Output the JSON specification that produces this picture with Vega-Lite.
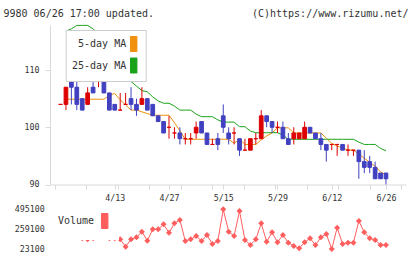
{
  "$schema": "https://vega.github.io/schema/vega-lite/v6.json",
  "width": 356,
  "height": 159.5,
  "autosize": {"type": "none"},
  "padding": {"left": 50, "top": 25, "right": 14, "bottom": 74.5},
  "background": "white",
  "config": {
    "view": {"stroke": null},
    "font": "DejaVu Sans Mono",
    "axis": {"labelFont": "DejaVu Sans Mono", "titleFont": "DejaVu Sans Mono", "labelColor": "#333333", "titleColor": "#333333", "titleFontWeight": "normal", "grid": false},
    "legend": {"labelFont": "DejaVu Sans Mono", "labelColor": "#333333", "labelFontSize": 10}
  },
  "datasets": {
    "candles": [
      {"date": "3/30", "i": 0, "open": 104, "high": 104, "low": 104, "close": 104},
      {"date": "3/31", "i": 1, "open": 104, "high": 107, "low": 103, "close": 107},
      {"date": "4/1", "i": 2, "open": 108, "high": 109, "low": 104, "close": 107},
      {"date": "4/2", "i": 3, "open": 107, "high": 109, "low": 103, "close": 104},
      {"date": "4/3", "i": 4, "open": 105, "high": 105, "low": 103, "close": 103},
      {"date": "4/6", "i": 5, "open": 104, "high": 107, "low": 104, "close": 106},
      {"date": "4/7", "i": 6, "open": 107, "high": 110, "low": 106, "close": 106},
      {"date": "4/8", "i": 7, "open": 108, "high": 110, "low": 107, "close": 108},
      {"date": "4/9", "i": 8, "open": 108, "high": 110, "low": 106, "close": 106},
      {"date": "4/10", "i": 9, "open": 106, "high": 106, "low": 103, "close": 103},
      {"date": "4/13", "i": 10, "open": 104, "high": 104, "low": 103, "close": 103},
      {"date": "4/14", "i": 11, "open": 103, "high": 106, "low": 103, "close": 103},
      {"date": "4/15", "i": 12, "open": 104, "high": 106, "low": 104, "close": 104},
      {"date": "4/16", "i": 13, "open": 105, "high": 107, "low": 103, "close": 104},
      {"date": "4/17", "i": 14, "open": 104, "high": 105, "low": 102, "close": 103},
      {"date": "4/20", "i": 15, "open": 104, "high": 107, "low": 104, "close": 105},
      {"date": "4/21", "i": 16, "open": 105, "high": 105, "low": 103, "close": 103},
      {"date": "4/22", "i": 17, "open": 104, "high": 104, "low": 102, "close": 102},
      {"date": "4/23", "i": 18, "open": 102, "high": 102, "low": 101, "close": 101},
      {"date": "4/24", "i": 19, "open": 101, "high": 101, "low": 99, "close": 99},
      {"date": "4/27", "i": 20, "open": 100, "high": 102, "low": 98, "close": 100},
      {"date": "4/28", "i": 21, "open": 99, "high": 100, "low": 98, "close": 99},
      {"date": "4/30", "i": 22, "open": 99, "high": 100, "low": 97, "close": 98},
      {"date": "5/1", "i": 23, "open": 98, "high": 99, "low": 97, "close": 98},
      {"date": "5/7", "i": 24, "open": 98, "high": 99, "low": 97, "close": 98},
      {"date": "5/8", "i": 25, "open": 99, "high": 101, "low": 98, "close": 100},
      {"date": "5/11", "i": 26, "open": 101, "high": 101, "low": 99, "close": 99},
      {"date": "5/12", "i": 27, "open": 99, "high": 99, "low": 97, "close": 97},
      {"date": "5/13", "i": 28, "open": 97, "high": 98, "low": 97, "close": 97},
      {"date": "5/14", "i": 29, "open": 98, "high": 99, "low": 96, "close": 97},
      {"date": "5/15", "i": 30, "open": 102, "high": 104, "low": 99, "close": 100},
      {"date": "5/18", "i": 31, "open": 99, "high": 100, "low": 97, "close": 98},
      {"date": "5/19", "i": 32, "open": 99, "high": 100, "low": 97, "close": 99},
      {"date": "5/20", "i": 33, "open": 98, "high": 98, "low": 95, "close": 96},
      {"date": "5/21", "i": 34, "open": 96, "high": 98, "low": 96, "close": 96},
      {"date": "5/22", "i": 35, "open": 96, "high": 98, "low": 96, "close": 98},
      {"date": "5/25", "i": 36, "open": 98, "high": 99, "low": 97, "close": 98},
      {"date": "5/26", "i": 37, "open": 98, "high": 103, "low": 98, "close": 102},
      {"date": "5/27", "i": 38, "open": 102, "high": 102, "low": 100, "close": 101},
      {"date": "5/28", "i": 39, "open": 101, "high": 101, "low": 99, "close": 100},
      {"date": "5/29", "i": 40, "open": 100, "high": 101, "low": 99, "close": 100},
      {"date": "6/1", "i": 41, "open": 100, "high": 101, "low": 98, "close": 98},
      {"date": "6/2", "i": 42, "open": 98, "high": 99, "low": 97, "close": 97},
      {"date": "6/3", "i": 43, "open": 98, "high": 100, "low": 97, "close": 99},
      {"date": "6/4", "i": 44, "open": 98, "high": 99, "low": 98, "close": 99},
      {"date": "6/5", "i": 45, "open": 98, "high": 101, "low": 98, "close": 100},
      {"date": "6/8", "i": 46, "open": 100, "high": 100, "low": 99, "close": 99},
      {"date": "6/9", "i": 47, "open": 99, "high": 99, "low": 98, "close": 98},
      {"date": "6/10", "i": 48, "open": 98, "high": 99, "low": 96, "close": 97},
      {"date": "6/11", "i": 49, "open": 97, "high": 97, "low": 94, "close": 96},
      {"date": "6/12", "i": 50, "open": 97, "high": 97, "low": 96, "close": 97},
      {"date": "6/15", "i": 51, "open": 97, "high": 97, "low": 95, "close": 97},
      {"date": "6/16", "i": 52, "open": 97, "high": 97, "low": 96, "close": 96},
      {"date": "6/17", "i": 53, "open": 96, "high": 97, "low": 95, "close": 96},
      {"date": "6/18", "i": 54, "open": 96, "high": 96, "low": 95, "close": 96},
      {"date": "6/19", "i": 55, "open": 96, "high": 96, "low": 91, "close": 94},
      {"date": "6/22", "i": 56, "open": 94, "high": 96, "low": 92, "close": 93},
      {"date": "6/23", "i": 57, "open": 94, "high": 95, "low": 92, "close": 93},
      {"date": "6/24", "i": 58, "open": 93, "high": 94, "low": 91, "close": 91},
      {"date": "6/25", "i": 59, "open": 92, "high": 92, "low": 91, "close": 91},
      {"date": "6/26", "i": 60, "open": 92, "high": 92, "low": 90, "close": 91}
    ],
    "averages": [
      {"ma": "5-day MA", "i": 1, "v": 104.9}, {"ma": "5-day MA", "i": 2, "v": 104.9}, {"ma": "5-day MA", "i": 3, "v": 104.9},
      {"ma": "5-day MA", "i": 4, "v": 104.9}, {"ma": "5-day MA", "i": 5, "v": 104.9}, {"ma": "5-day MA", "i": 6, "v": 104.9},
      {"ma": "5-day MA", "i": 7, "v": 104.9}, {"ma": "5-day MA", "i": 8, "v": 104.9}, {"ma": "5-day MA", "i": 9, "v": 105.6},
      {"ma": "5-day MA", "i": 10, "v": 105.9}, {"ma": "5-day MA", "i": 11, "v": 104.8}, {"ma": "5-day MA", "i": 12, "v": 103.9},
      {"ma": "5-day MA", "i": 13, "v": 103.0}, {"ma": "5-day MA", "i": 14, "v": 103.0}, {"ma": "5-day MA", "i": 15, "v": 102.7},
      {"ma": "5-day MA", "i": 16, "v": 102.4}, {"ma": "5-day MA", "i": 17, "v": 102.1}, {"ma": "5-day MA", "i": 18, "v": 102.1},
      {"ma": "5-day MA", "i": 19, "v": 102.1}, {"ma": "5-day MA", "i": 20, "v": 102.1}, {"ma": "5-day MA", "i": 21, "v": 100.8},
      {"ma": "5-day MA", "i": 22, "v": 99.4}, {"ma": "5-day MA", "i": 23, "v": 97.9}, {"ma": "5-day MA", "i": 24, "v": 97.9},
      {"ma": "5-day MA", "i": 25, "v": 97.9}, {"ma": "5-day MA", "i": 26, "v": 97.9}, {"ma": "5-day MA", "i": 27, "v": 97.9},
      {"ma": "5-day MA", "i": 28, "v": 97.9}, {"ma": "5-day MA", "i": 29, "v": 97.9}, {"ma": "5-day MA", "i": 30, "v": 97.9},
      {"ma": "5-day MA", "i": 31, "v": 97.9}, {"ma": "5-day MA", "i": 32, "v": 97.2}, {"ma": "5-day MA", "i": 33, "v": 97.9},
      {"ma": "5-day MA", "i": 34, "v": 97.0}, {"ma": "5-day MA", "i": 35, "v": 97.0}, {"ma": "5-day MA", "i": 36, "v": 97.0},
      {"ma": "5-day MA", "i": 37, "v": 97.8}, {"ma": "5-day MA", "i": 38, "v": 98.5}, {"ma": "5-day MA", "i": 39, "v": 99.0},
      {"ma": "5-day MA", "i": 40, "v": 99.9}, {"ma": "5-day MA", "i": 41, "v": 99.9}, {"ma": "5-day MA", "i": 42, "v": 99.9},
      {"ma": "5-day MA", "i": 43, "v": 99.0}, {"ma": "5-day MA", "i": 44, "v": 99.0}, {"ma": "5-day MA", "i": 45, "v": 99.0},
      {"ma": "5-day MA", "i": 46, "v": 99.0}, {"ma": "5-day MA", "i": 47, "v": 99.0}, {"ma": "5-day MA", "i": 48, "v": 99.0},
      {"ma": "5-day MA", "i": 49, "v": 98.1}, {"ma": "5-day MA", "i": 50, "v": 97.2}, {"ma": "5-day MA", "i": 51, "v": 96.7},
      {"ma": "5-day MA", "i": 52, "v": 96.4}, {"ma": "5-day MA", "i": 53, "v": 96.0}, {"ma": "5-day MA", "i": 54, "v": 96.0},
      {"ma": "5-day MA", "i": 55, "v": 95.3}, {"ma": "5-day MA", "i": 56, "v": 94.6}, {"ma": "5-day MA", "i": 57, "v": 93.9},
      {"ma": "5-day MA", "i": 58, "v": 93.2}, {"ma": "5-day MA", "i": 59, "v": 92.2}, {"ma": "5-day MA", "i": 60, "v": 91.7},
      {"ma": "25-day MA", "i": 1, "v": 116.8}, {"ma": "25-day MA", "i": 2, "v": 117.2}, {"ma": "25-day MA", "i": 3, "v": 117.8},
      {"ma": "25-day MA", "i": 4, "v": 117.8}, {"ma": "25-day MA", "i": 5, "v": 117.8}, {"ma": "25-day MA", "i": 6, "v": 117.2},
      {"ma": "25-day MA", "i": 7, "v": 116.2}, {"ma": "25-day MA", "i": 8, "v": 114.8}, {"ma": "25-day MA", "i": 9, "v": 113.2},
      {"ma": "25-day MA", "i": 10, "v": 111.6}, {"ma": "25-day MA", "i": 11, "v": 110.1}, {"ma": "25-day MA", "i": 12, "v": 108.7},
      {"ma": "25-day MA", "i": 13, "v": 108.0}, {"ma": "25-day MA", "i": 14, "v": 107.2}, {"ma": "25-day MA", "i": 15, "v": 106.4},
      {"ma": "25-day MA", "i": 16, "v": 106.2}, {"ma": "25-day MA", "i": 17, "v": 105.3}, {"ma": "25-day MA", "i": 18, "v": 104.6},
      {"ma": "25-day MA", "i": 19, "v": 104.2}, {"ma": "25-day MA", "i": 20, "v": 104.2}, {"ma": "25-day MA", "i": 21, "v": 103.7},
      {"ma": "25-day MA", "i": 22, "v": 103.0}, {"ma": "25-day MA", "i": 23, "v": 103.0}, {"ma": "25-day MA", "i": 24, "v": 103.0},
      {"ma": "25-day MA", "i": 25, "v": 102.3}, {"ma": "25-day MA", "i": 26, "v": 101.85}, {"ma": "25-day MA", "i": 27, "v": 101.85},
      {"ma": "25-day MA", "i": 28, "v": 101.85}, {"ma": "25-day MA", "i": 29, "v": 101.3}, {"ma": "25-day MA", "i": 30, "v": 100.9},
      {"ma": "25-day MA", "i": 31, "v": 100.9}, {"ma": "25-day MA", "i": 32, "v": 100.9}, {"ma": "25-day MA", "i": 33, "v": 100.1},
      {"ma": "25-day MA", "i": 34, "v": 100.1}, {"ma": "25-day MA", "i": 35, "v": 99.35}, {"ma": "25-day MA", "i": 36, "v": 99.05},
      {"ma": "25-day MA", "i": 37, "v": 99.05}, {"ma": "25-day MA", "i": 38, "v": 99.05}, {"ma": "25-day MA", "i": 39, "v": 99.05},
      {"ma": "25-day MA", "i": 40, "v": 99.05}, {"ma": "25-day MA", "i": 41, "v": 98.65}, {"ma": "25-day MA", "i": 42, "v": 97.9},
      {"ma": "25-day MA", "i": 43, "v": 97.9}, {"ma": "25-day MA", "i": 44, "v": 97.9}, {"ma": "25-day MA", "i": 45, "v": 97.9},
      {"ma": "25-day MA", "i": 46, "v": 97.9}, {"ma": "25-day MA", "i": 47, "v": 97.9}, {"ma": "25-day MA", "i": 48, "v": 97.9},
      {"ma": "25-day MA", "i": 49, "v": 97.9}, {"ma": "25-day MA", "i": 50, "v": 97.9}, {"ma": "25-day MA", "i": 51, "v": 97.9},
      {"ma": "25-day MA", "i": 52, "v": 97.9}, {"ma": "25-day MA", "i": 53, "v": 97.9}, {"ma": "25-day MA", "i": 54, "v": 97.9},
      {"ma": "25-day MA", "i": 55, "v": 97.4}, {"ma": "25-day MA", "i": 56, "v": 97.0}, {"ma": "25-day MA", "i": 57, "v": 97.0},
      {"ma": "25-day MA", "i": 58, "v": 97.0}, {"ma": "25-day MA", "i": 59, "v": 96.3}, {"ma": "25-day MA", "i": 60, "v": 95.9}
    ],
    "volume": [
      {"series": "Volume", "i": 0, "volume": 230000}, {"series": "Volume", "i": 1, "volume": 250000},
      {"series": "Volume", "i": 2, "volume": 220000}, {"series": "Volume", "i": 3, "volume": 200000},
      {"series": "Volume", "i": 4, "volume": 150000}, {"series": "Volume", "i": 5, "volume": 138000},
      {"series": "Volume", "i": 6, "volume": 150000}, {"series": "Volume", "i": 7, "volume": 190000},
      {"series": "Volume", "i": 8, "volume": 180000}, {"series": "Volume", "i": 9, "volume": 150000},
      {"series": "Volume", "i": 10, "volume": 150000}, {"series": "Volume", "i": 11, "volume": 138000},
      {"series": "Volume", "i": 12, "volume": 51000}, {"series": "Volume", "i": 13, "volume": 138000},
      {"series": "Volume", "i": 14, "volume": 162000}, {"series": "Volume", "i": 15, "volume": 229000},
      {"series": "Volume", "i": 16, "volume": 122000}, {"series": "Volume", "i": 17, "volume": 257000},
      {"series": "Volume", "i": 18, "volume": 257000}, {"series": "Volume", "i": 19, "volume": 316000},
      {"series": "Volume", "i": 20, "volume": 217000}, {"series": "Volume", "i": 21, "volume": 328000},
      {"series": "Volume", "i": 22, "volume": 368000}, {"series": "Volume", "i": 23, "volume": 118000},
      {"series": "Volume", "i": 24, "volume": 138000}, {"series": "Volume", "i": 25, "volume": 178000},
      {"series": "Volume", "i": 26, "volume": 118000}, {"series": "Volume", "i": 27, "volume": 190000},
      {"series": "Volume", "i": 28, "volume": 82500}, {"series": "Volume", "i": 29, "volume": 118000},
      {"series": "Volume", "i": 30, "volume": 495100}, {"series": "Volume", "i": 31, "volume": 229000},
      {"series": "Volume", "i": 32, "volume": 178000}, {"series": "Volume", "i": 33, "volume": 475000},
      {"series": "Volume", "i": 34, "volume": 130000}, {"series": "Volume", "i": 35, "volume": 70700},
      {"series": "Volume", "i": 36, "volume": 138000}, {"series": "Volume", "i": 37, "volume": 328000},
      {"series": "Volume", "i": 38, "volume": 110000}, {"series": "Volume", "i": 39, "volume": 221000},
      {"series": "Volume", "i": 40, "volume": 102000}, {"series": "Volume", "i": 41, "volume": 190000},
      {"series": "Volume", "i": 42, "volume": 98400}, {"series": "Volume", "i": 43, "volume": 58800},
      {"series": "Volume", "i": 44, "volume": 31000}, {"series": "Volume", "i": 45, "volume": 102000},
      {"series": "Volume", "i": 46, "volume": 150000}, {"series": "Volume", "i": 47, "volume": 70700},
      {"series": "Volume", "i": 48, "volume": 162000}, {"series": "Volume", "i": 49, "volume": 201000},
      {"series": "Volume", "i": 50, "volume": 23100}, {"series": "Volume", "i": 51, "volume": 277000},
      {"series": "Volume", "i": 52, "volume": 82500}, {"series": "Volume", "i": 53, "volume": 98400},
      {"series": "Volume", "i": 54, "volume": 98400}, {"series": "Volume", "i": 55, "volume": 356000},
      {"series": "Volume", "i": 56, "volume": 221000}, {"series": "Volume", "i": 57, "volume": 150000},
      {"series": "Volume", "i": 58, "volume": 130000}, {"series": "Volume", "i": 59, "volume": 70700},
      {"series": "Volume", "i": 60, "volume": 70700}
    ]
  },
  "encoding": {
    "x": {
      "field": "i",
      "type": "quantitative",
      "scale": {"domain": [-1.02, 62.77], "nice": false, "zero": false},
      "axis": {
        "title": "(C)https://www.rizumu.net/",
        "titleX": 358,
        "titleY": -167.8,
        "titleAlign": "right",
        "titleBaseline": "alphabetic",
        "titleFontSize": 10,
        "titleAngle": 0,
        "values": [-1.02, 4.78, 10, 10.58, 16.38, 20, 22.18, 27.98, 30, 33.78, 39.58, 40, 45.38, 50, 51.18, 56.98, 60, 62.77],
        "labelExpr": "datum.value == 10 ? '4/13' : datum.value == 20 ? '4/27' : datum.value == 30 ? '5/15' : datum.value == 40 ? '5/29' : datum.value == 50 ? '6/12' : datum.value == 60 ? '6/26' : ''",
        "labelFontSize": 8.3,
        "labelDx": -1.5,
        "labelPadding": 4,
        "tickSize": 4.5,
        "labelOverlap": false,
        "labelFlush": false,
        "labelBound": false,
        "domainColor": "#d9d9d9",
        "tickColor": "#d9d9d9",
        "encode": {
          "ticks": {"update": {"y": {"value": -4.5}, "y2": {"value": 4.5}, "opacity": {"signal": "datum.value % 10 === 0 ? 0 : 1"}}}
        }
      }
    }
  },
  "layer": [
    {
      "layer": [
        {
          "data": {"name": "volume"},
          "mark": {"type": "line", "strokeWidth": 1},
          "encoding": {
            "y": {
              "field": "volume", "type": "quantitative",
              "scale": {"domain": [23100, 495100], "range": [224, 184.3], "nice": false, "zero": false},
              "axis": {"orient": "left", "title": "9980 06/26 17:00 updated.", "titleX": -47, "titleY": -8.3, "titleAngle": 0, "titleAlign": "left", "titleBaseline": "alphabetic", "titleFontSize": 10, "values": [23100, 259100, 495100], "format": "d", "domain": false, "ticks": false, "labelPadding": 5.7, "labelFontSize": 8.3, "labelFlush": false, "labelOverlap": false}
            },
            "stroke": {
              "field": "series", "type": "nominal",
              "scale": {"domain": ["Volume"], "range": ["#ff5e5e"]},
              "legend": {
                "title": null, "orient": "none", "legendX": -1, "legendY": 179,
                "fillColor": "white", "padding": 9, "labelFontSize": 10,
                "symbolType": "M-0.43,-1H0.43V1H-0.43Z", "symbolSize": 225,
                "symbolStrokeColor": "#333333", "symbolStrokeWidth": 1,
                "encode": {
                  "symbols": {"update": {"fill": {"value": "#ff5e5e"}, "stroke": {"value": "#333333"}, "strokeWidth": {"value": 1}, "x": {"value": 46.7}}},
                  "labels": {"update": {"x": {"value": 36}, "align": {"value": "right"}}}
                }
              }
            }
          }
        },
        {
          "data": {"name": "volume"},
          "mark": {"type": "point", "shape": "diamond", "filled": true, "size": 36, "opacity": 1, "color": "#ff5e5e"},
          "encoding": {
            "y": {
              "field": "volume", "type": "quantitative",
              "scale": {"domain": [23100, 495100], "range": [224, 184.3], "nice": false, "zero": false},
              "axis": {"orient": "left", "title": "9980 06/26 17:00 updated.", "titleX": -47, "titleY": -8.3, "titleAngle": 0, "titleAlign": "left", "titleBaseline": "alphabetic", "titleFontSize": 10, "values": [23100, 259100, 495100], "format": "d", "domain": false, "ticks": false, "labelPadding": 5.7, "labelFontSize": 8.3, "labelFlush": false, "labelOverlap": false}
            }
          }
        }
      ]
    },
    {
      "layer": [
        {
          "data": {"name": "averages"},
          "mark": {"type": "line", "strokeWidth": 1},
          "encoding": {
            "y": {
              "field": "v", "type": "quantitative",
              "scale": {"domain": [90, 117.87], "nice": false, "zero": false},
              "axis": {"orient": "left", "title": null, "values": [90, 100, 110], "tickSize": 5, "labelPadding": 6, "labelFontSize": 8.3, "domainColor": "#d9d9d9", "tickColor": "#d9d9d9", "labelFlush": false, "labelOverlap": false, "encode": {"ticks": {"update": {"x": {"value": 3.3}, "x2": {"value": -5}}}}}
            },
            "stroke": {
              "field": "ma", "type": "nominal",
              "scale": {"domain": ["5-day MA", "25-day MA"], "range": ["#f0900c", "#1aa31a"]},
              "legend": {
                "title": null, "orient": "none", "legendX": 15.7, "legendY": 5,
                "fillColor": "white", "strokeColor": "#cccccc", "padding": 6, "rowPadding": 1.5,
                "labelFontSize": 10,
                "symbolType": "M-0.43,-1H0.43V1H-0.43Z", "symbolSize": 225,
                "symbolStrokeColor": "#333333", "symbolStrokeWidth": 1,
                "encode": {
                  "symbols": {"update": {"fill": {"signal": "datum.value === '5-day MA' ? '#f0900c' : '#1aa31a'"}, "stroke": {"value": "#333333"}, "strokeWidth": {"value": 1}, "x": {"value": 62}}},
                  "labels": {"update": {"x": {"value": 54.5}, "align": {"value": "right"}}}
                }
              }
            }
          }
        },
        {
          "data": {"name": "candles"},
          "mark": {"type": "rule", "strokeWidth": 1},
          "encoding": {
            "y": {"field": "low", "type": "quantitative", "scale": {"domain": [90, 117.87], "nice": false, "zero": false}, "axis": {"orient": "left", "title": null, "values": [90, 100, 110], "tickSize": 5, "labelPadding": 6, "labelFontSize": 8.3, "domainColor": "#d9d9d9", "tickColor": "#d9d9d9", "labelFlush": false, "labelOverlap": false, "encode": {"ticks": {"update": {"x": {"value": 3.3}, "x2": {"value": -5}}}}}},
            "y2": {"field": "high"},
            "color": {"condition": {"test": "datum.close < datum.open", "value": "#4040c0"}, "value": "#dd0000"}
          }
        },
        {
          "data": {"name": "candles"},
          "mark": {"type": "bar", "width": 3.7, "strokeWidth": 1},
          "encoding": {
            "y": {"field": "open", "type": "quantitative", "scale": {"domain": [90, 117.87], "nice": false, "zero": false}, "axis": {"orient": "left", "title": null, "values": [90, 100, 110], "tickSize": 5, "labelPadding": 6, "labelFontSize": 8.3, "domainColor": "#d9d9d9", "tickColor": "#d9d9d9", "labelFlush": false, "labelOverlap": false, "encode": {"ticks": {"update": {"x": {"value": 3.3}, "x2": {"value": -5}}}}}},
            "y2": {"field": "close"},
            "fill": {"condition": {"test": "datum.close < datum.open", "value": "#4040c0"}, "value": "#dd0000"},
            "stroke": {"condition": {"test": "datum.close < datum.open", "value": "#4040c0"}, "value": "#dd0000"}
          }
        }
      ]
    }
  ],
  "resolve": {"scale": {"y": "independent", "stroke": "independent"}}
}
